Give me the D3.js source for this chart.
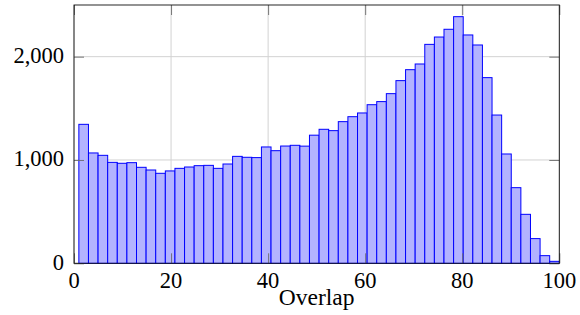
<!DOCTYPE html>
<html>
<head>
<meta charset="utf-8">
<script src="https://cdn.jsdelivr.net/npm/d3@7"></script>
<style>
  html, body { margin: 0; padding: 0; background: #fff; }
  svg { display: block; }
  text { font-family: "Liberation Serif", "DejaVu Serif", serif; fill: #000; }
</style>
</head>
<body>
<svg id="chart" width="580" height="315"></svg>
<script>
// ---- data ----
const binLow = 1;
const binHigh = 100;
const counts = [
  1345, 1068, 1045, 977, 968, 974, 929, 903, 871, 894,
  919, 932, 945, 948, 919, 961, 1035, 1026, 1023, 1126,
  1090, 1135, 1142, 1134, 1240, 1297, 1284, 1371, 1419, 1455,
  1535, 1565, 1642, 1768, 1874, 1929, 2119, 2190, 2265, 2387,
  2210, 2113, 1797, 1435, 1058, 732, 474, 239, 74, 19
];
const xTicks = [0, 20, 40, 60, 80, 100];
const yTicks = [0, 1000, 2000];
const xLabel = "Overlap";

// ---- layout ----
const pL = 74, pR = 559.3, pT = 5, pB = 263.3;
const svg = d3.select("#chart");

const x = d3.scaleLinear().domain([0, 100]).range([pL, pR]);
const y = d3.scaleLinear().domain([0, 2500]).range([pB, pT]);

const binW = (binHigh - binLow) / counts.length;
const bins = counts.map((c, i) => ({ x0: binLow + i * binW, x1: binLow + (i + 1) * binW, c }));

// grid
const grid = svg.append("g").attr("stroke", "#d2d2d2").attr("stroke-width", 1);
xTicks.forEach(t => grid.append("line")
  .attr("x1", x(t)).attr("x2", x(t)).attr("y1", pT).attr("y2", pB));
yTicks.forEach(t => grid.append("line")
  .attr("x1", pL).attr("x2", pR).attr("y1", y(t)).attr("y2", y(t)));

// bars
svg.append("g").selectAll("rect").data(bins).join("rect")
  .attr("x", d => x(d.x0))
  .attr("width", d => x(d.x1) - x(d.x0))
  .attr("y", d => y(d.c))
  .attr("height", d => y(0) - y(d.c))
  .attr("fill", "#b3b3ff")
  .attr("stroke", "#0000ff")
  .attr("stroke-width", 1);

// axes (ticks inside, both sides)
const tl = 10;
const xb = d3.axisBottom(x).tickValues(xTicks).tickSize(-tl).tickFormat("");
const xt = d3.axisTop(x).tickValues(xTicks).tickSize(-tl).tickFormat("");
const yl = d3.axisLeft(y).tickValues(yTicks).tickSize(-tl).tickFormat("");
const yr = d3.axisRight(y).tickValues(yTicks).tickSize(-tl).tickFormat("");
function styleAxis(g) {
  g.select(".domain").remove();
  g.selectAll(".tick line").attr("stroke", "#6a6a6a").attr("stroke-width", 0.9);
}
svg.append("g").attr("transform", `translate(0,${pB})`).call(xb).call(styleAxis);
svg.append("g").attr("transform", `translate(0,${pT})`).call(xt).call(styleAxis);
svg.append("g").attr("transform", `translate(${pL},0)`).call(yl).call(styleAxis);
svg.append("g").attr("transform", `translate(${pR},0)`).call(yr).call(styleAxis);

// frame
svg.append("rect")
  .attr("x", pL).attr("y", pT)
  .attr("width", pR - pL).attr("height", pB - pT)
  .attr("fill", "none").attr("stroke", "#111").attr("stroke-width", 0.9);

// tick labels
const fmt = d3.format(",");
svg.append("g").selectAll("text").data(xTicks).join("text")
  .attr("x", d => x(d)).attr("y", 288)
  .attr("text-anchor", "middle").attr("font-size", 22.5)
  .text(d => d);
svg.append("g").selectAll("text").data(yTicks).join("text")
  .attr("x", 64).attr("y", d => y(d) + 6.5)
  .attr("text-anchor", "end").attr("font-size", 22.5)
  .text(d => fmt(d));

// x label
svg.append("text")
  .attr("x", (pL + pR) / 2).attr("y", 304.5)
  .attr("text-anchor", "middle").attr("font-size", 23.5)
  .text(xLabel);
</script>
</body>
</html>
